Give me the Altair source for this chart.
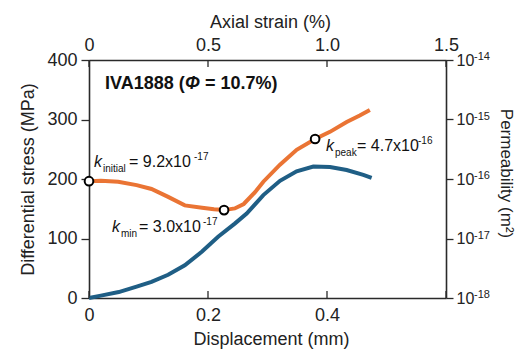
import altair as alt
import pandas as pd

# ---- data ----
disp_stress = [0, 0.02, 0.05, 0.08, 0.105, 0.133, 0.161, 0.19, 0.217, 0.245, 0.265,
               0.293, 0.321, 0.349, 0.377, 0.405, 0.433, 0.461, 0.475]
stress = [0, 4, 10, 19, 27, 39, 55, 78, 103, 125, 142, 173, 197, 213, 221, 220, 215, 207, 202]

disp_perm = [0, 0.02, 0.049, 0.08, 0.105, 0.133, 0.161, 0.19, 0.21, 0.227, 0.245, 0.26,
             0.279, 0.293, 0.321, 0.349, 0.380, 0.405, 0.433, 0.455, 0.472]
perm = [9.2e-17, 9.3e-17, 9.0e-17, 7.9e-17, 6.8e-17, 5.0e-17, 3.6e-17, 3.3e-17, 3.1e-17,
        3.0e-17, 3.2e-17, 3.8e-17, 6.0e-17, 9.0e-17, 1.74e-16, 3.1e-16, 4.7e-16, 6.2e-16,
        9.1e-16, 1.17e-15, 1.45e-15]

key_disp = [0, 0.227, 0.380]
key_perm = [9.2e-17, 3.0e-17, 4.7e-16]

disp_ticks = [0, 0.2, 0.4, 0.6]
disp_labels = [0, 0.2, 0.4]
stress_ticks = [0, 100, 200, 300, 400]
strain_ticks = [0, 0.5, 1.0, 1.5]
perm_ticks = [1e-18, 1e-17, 1e-16, 1e-15, 1e-14]
perm_exps = ["-18", "-17", "-16", "-15", "-14"]

W, H = 357, 238
FONT = "Liberation Sans"
BLUE = "#1F5E85"
ORANGE = "#EA7434"
AX = "#2a2a2a"

x_disp = alt.Scale(domain=[0, 0.6], nice=False, zero=False)
y_stress = alt.Scale(domain=[0, 400], nice=False)
y_perm = alt.Scale(type="log", domain=[1e-18, 1e-14], nice=False)

common_axis = dict(grid=False, domainColor=AX, domainWidth=1.6, tickColor=AX, tickWidth=1.3,
                   labelFont=FONT, titleFont=FONT, labelColor="#222", titleColor="#222",
                   titleFontWeight="normal", labelFlush=False, labelOverlap=False)

LBL = "datum.value == 0 ? '0' : format(datum.value, '.1f')"

stress_df = pd.DataFrame({"disp": disp_stress, "stress": stress})
perm_df = pd.DataFrame({"disp": disp_perm, "perm": perm})
key_df = pd.DataFrame({"disp": key_disp, "perm": key_perm})

blue = alt.Chart(stress_df).mark_line(color=BLUE, strokeWidth=4).encode(
    x=alt.X("disp:Q", scale=x_disp,
            axis=alt.Axis(orient="bottom", values=disp_labels, title="Displacement (mm)",
                          labelExpr=LBL,
                          tickSize=0, labelPadding=8, labelFontSize=18, titleFontSize=18,
                          titleX=182, titleY=46, titleBaseline="alphabetic", **common_axis)),
    y=alt.Y("stress:Q", scale=y_stress,
            axis=alt.Axis(orient="left", values=stress_ticks, title="Differential stress (MPa)",
                          tickSize=8, labelPadding=4, labelFontSize=18, titleFontSize=18,
                          titleX=-56, titleY=119, titleAngle=-90, titleAlign="center",
                          titleBaseline="alphabetic", **common_axis)),
)

orange = alt.Chart(perm_df).mark_line(color=ORANGE, strokeWidth=4).encode(
    x=alt.X("disp:Q", scale=x_disp, axis=None),
    y=alt.Y("perm:Q", scale=y_perm,
            axis=alt.Axis(orient="right", values=perm_ticks, labelExpr="'10'",
                          title="Permeability (m²)", tickSize=7, labelPadding=3,
                          labelFontSize=16, titleFontSize=17, titleX=54, titleY=113,
                          titleAngle=90, titleAlign="center", titleBaseline="alphabetic",
                          **common_axis)),
)

circles = alt.Chart(key_df).mark_point(shape="circle", size=75, filled=True, fill="white",
                                       stroke="black", strokeWidth=2, opacity=1).encode(
    x=alt.X("disp:Q", scale=x_disp, axis=None),
    y=alt.Y("perm:Q", scale=y_perm, axis=None),
)

top = alt.Chart(pd.DataFrame({"strain": strain_ticks})).mark_rule(color=AX, strokeWidth=1.3).encode(
    x=alt.X("strain:Q", scale=alt.Scale(domain=[0, 1.5], nice=False, zero=False),
            axis=alt.Axis(orient="top", values=strain_ticks, labelExpr=LBL,
                          title="Axial strain (%)", tickSize=0, labelPadding=6,
                          labelFontSize=18, titleFontSize=18, titleX=181, titleY=-33,
                          titleBaseline="alphabetic", **common_axis)),
    y=alt.value(0), y2=alt.value(7),
)

bottom_ticks = alt.Chart(pd.DataFrame({"disp": disp_ticks})).mark_rule(color=AX, strokeWidth=1.3).encode(
    x=alt.X("disp:Q", scale=x_disp, axis=None),
    y=alt.value(H - 7), y2=alt.value(H),
)

exps = alt.Chart(pd.DataFrame({"perm": perm_ticks, "e": perm_exps})).mark_text(
    align="left", baseline="alphabetic", fontSize=11, font=FONT, color="#222").encode(
    y=alt.Y("perm:Q", scale=y_perm, axis=None),
    x=alt.value(W + 28),
    text="e:N",
)


def txt(s, x, y, size=16, style="normal", weight="normal"):
    return alt.Chart(pd.DataFrame({"t": [s]})).mark_text(
        align="left", baseline="alphabetic", fontSize=size, fontStyle=style,
        fontWeight=weight, font=FONT, color="#111").encode(
        x=alt.value(x), y=alt.value(y), text="t:N")


texts = [
    txt("IVA1888 (", 16, 29, 18, weight="bold"),
    txt("Φ", 96, 29, 18, style="italic", weight="bold"),
    txt("= 10.7%)", 116, 29, 18, weight="bold"),
    # k initial
    txt("k", 5, 107, 16, style="italic"),
    txt("initial", 14, 112, 10),
    txt("= 9.2x10", 40, 107, 16),
    txt("-17", 105, 100, 10),
    # k min
    txt("k", 23, 172, 16, style="italic"),
    txt("min", 32, 177, 10),
    txt("= 3.0x10", 50, 172, 16),
    txt("-17", 114, 165, 10),
    # k peak
    txt("k", 237, 91, 16, style="italic"),
    txt("peak", 246, 96, 10),
    txt("= 4.7x10", 268, 91, 16),
    txt("-16", 329, 84, 10),
]

chart = alt.layer(orange, blue, circles, top, bottom_ticks, exps, *texts).resolve_scale(
    x="independent", y="independent"
).properties(
    width=W, height=H,
    autosize=alt.AutoSizeParams(type="none"),
    padding={"left": 81, "top": 52, "right": 70, "bottom": 51},
).configure_view(stroke=None)

chart.save("out.html", embed_options={"renderer": "svg", "actions": False})
